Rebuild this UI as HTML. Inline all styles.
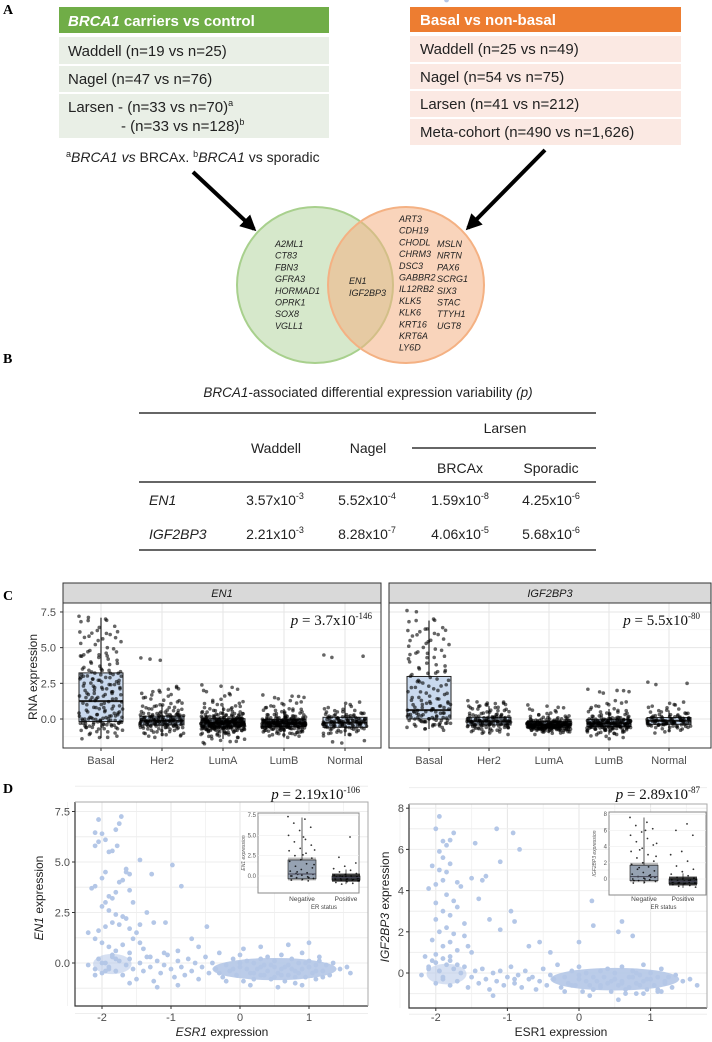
<!DOCTYPE html>
<html><head><meta charset="utf-8">
<style>
html,body{margin:0;padding:0;background:#fff;}
svg{display:block;font-family:"Liberation Sans",Arial,sans-serif;}
.lbl{font-family:"Liberation Serif",serif;font-weight:bold;font-size:14px;}
.tk{font-size:11px;fill:#4d4d4d;}
.gn{font-size:9px;font-style:italic;fill:#222;}
</style></head>
<body>
<svg id="fig" width="712" height="1042" viewBox="0 0 712 1042" xmlns="http://www.w3.org/2000/svg">
<defs>
<marker id="ah" viewBox="0 0 10 10" refX="8" refY="5" markerWidth="4" markerHeight="4" orient="auto"><path d="M0,0 L10,5 L0,10 z" fill="#000"/></marker>
</defs>
<!-- Panel A -->
<text class="lbl" x="3" y="14">A</text>
<g>
<rect x="59" y="7" width="270" height="26" fill="#70ad47"/>
<text x="68" y="26" fill="#fff" font-size="15" font-weight="bold"><tspan font-style="italic">BRCA1</tspan> carriers vs control</text>
<rect x="59" y="37" width="270" height="27" fill="#e9efe6"/>
<text x="68" y="56" font-size="15" fill="#222">Waddell (n=19 vs n=25)</text>
<rect x="59" y="66" width="270" height="26" fill="#e9efe6"/>
<text x="68" y="84" font-size="15" fill="#222">Nagel (n=47 vs n=76)</text>
<rect x="59" y="94" width="270" height="44" fill="#e9efe6"/>
<text x="68" y="112" font-size="15" fill="#222">Larsen - (n=33 vs n=70)<tspan font-size="9" dy="-6">a</tspan></text>
<text x="121" y="131" font-size="15" fill="#222">- (n=33 vs n=128)<tspan font-size="9" dy="-6">b</tspan></text>
<text x="66" y="162" font-size="14" fill="#222"><tspan font-size="9" dy="-5">a</tspan><tspan dy="5" font-style="italic">BRCA1 vs</tspan> BRCAx. <tspan font-size="9" dy="-5">b</tspan><tspan dy="5" font-style="italic">BRCA1</tspan> vs sporadic</text>
</g>
<g>
<rect x="410" y="7" width="271" height="25" fill="#ed7d31"/>
<text x="420" y="25" fill="#fff" font-size="15" font-weight="bold">Basal vs non-basal</text>
<rect x="410" y="36" width="271" height="26" fill="#fbe9e3"/>
<text x="420" y="54" font-size="15" fill="#222">Waddell (n=25 vs n=49)</text>
<rect x="410" y="64" width="271" height="25" fill="#fbe9e3"/>
<text x="420" y="82" font-size="15" fill="#222">Nagel (n=54 vs n=75)</text>
<rect x="410" y="91" width="271" height="26" fill="#fbe9e3"/>
<text x="420" y="109" font-size="15" fill="#222">Larsen (n=41 vs n=212)</text>
<rect x="410" y="119" width="271" height="26" fill="#fbe9e3"/>
<text x="420" y="137" font-size="15" fill="#222">Meta-cohort (n=490 vs n=1,626)</text>
</g>
<line x1="193" y1="172" x2="254" y2="229" stroke="#000" stroke-width="4" marker-end="url(#ah)"/>
<line x1="545" y1="150" x2="468" y2="228" stroke="#000" stroke-width="4" marker-end="url(#ah)"/>
<g>
<circle cx="315" cy="285" r="78" fill="#d6e8cb" stroke="#a8d08d" stroke-width="2"/>
<circle cx="406" cy="285" r="78" fill="#f4b183" fill-opacity="0.55" stroke="#f4b183" stroke-width="2"/>
<text class="gn"><tspan x="275" y="247">A2ML1</tspan><tspan x="275" y="258.7">CT83</tspan><tspan x="275" y="270.4">FBN3</tspan><tspan x="275" y="282.1">GFRA3</tspan><tspan x="275" y="293.8">HORMAD1</tspan><tspan x="275" y="305.5">OPRK1</tspan><tspan x="275" y="317.2">SOX8</tspan><tspan x="275" y="328.9">VGLL1</tspan></text>
<text class="gn"><tspan x="349" y="284">EN1</tspan><tspan x="349" y="296">IGF2BP3</tspan></text>
<text class="gn"><tspan x="399" y="222">ART3</tspan><tspan x="399" y="233.7">CDH19</tspan><tspan x="399" y="245.4">CHODL</tspan><tspan x="399" y="257.1">CHRM3</tspan><tspan x="399" y="268.8">DSC3</tspan><tspan x="399" y="280.5">GABBR2</tspan><tspan x="399" y="292.2">IL12RB2</tspan><tspan x="399" y="303.9">KLK5</tspan><tspan x="399" y="315.6">KLK6</tspan><tspan x="399" y="327.3">KRT16</tspan><tspan x="399" y="339">KRT6A</tspan><tspan x="399" y="350.7">LY6D</tspan></text>
<text class="gn"><tspan x="437" y="247">MSLN</tspan><tspan x="437" y="258.7">NRTN</tspan><tspan x="437" y="270.4">PAX6</tspan><tspan x="437" y="282.1">SCRG1</tspan><tspan x="437" y="293.8">SIX3</tspan><tspan x="437" y="305.5">STAC</tspan><tspan x="437" y="317.2">TTYH1</tspan><tspan x="437" y="328.9">UGT8</tspan></text>
</g>
<!-- Panel B -->
<text class="lbl" x="3" y="363">B</text>
<g font-size="14" fill="#222">
<text x="368" y="397" text-anchor="middle" font-size="13.5"><tspan font-style="italic">BRCA1</tspan>-associated differential expression variability <tspan font-style="italic">(p)</tspan></text>
<line x1="139" y1="413" x2="596" y2="413" stroke="#333" stroke-width="1.5"/>
<text x="505" y="433" text-anchor="middle">Larsen</text>
<line x1="412" y1="448" x2="596" y2="448" stroke="#333" stroke-width="1.5"/>
<text x="276" y="453" text-anchor="middle">Waddell</text>
<text x="368" y="453" text-anchor="middle">Nagel</text>
<text x="460" y="473" text-anchor="middle">BRCAx</text>
<text x="551" y="473" text-anchor="middle">Sporadic</text>
<line x1="139" y1="482" x2="596" y2="482" stroke="#333" stroke-width="1.5"/>
<text x="149" y="505" font-style="italic">EN1</text>
<text x="275" y="505" text-anchor="middle">3.57x10<tspan font-size="9" dy="-6">-3</tspan></text>
<text x="367" y="505" text-anchor="middle">5.52x10<tspan font-size="9" dy="-6">-4</tspan></text>
<text x="460" y="505" text-anchor="middle">1.59x10<tspan font-size="9" dy="-6">-8</tspan></text>
<text x="551" y="505" text-anchor="middle">4.25x10<tspan font-size="9" dy="-6">-6</tspan></text>
<text x="149" y="539" font-style="italic">IGF2BP3</text>
<text x="275" y="539" text-anchor="middle">2.21x10<tspan font-size="9" dy="-6">-3</tspan></text>
<text x="367" y="539" text-anchor="middle">8.28x10<tspan font-size="9" dy="-6">-7</tspan></text>
<text x="460" y="539" text-anchor="middle">4.06x10<tspan font-size="9" dy="-6">-5</tspan></text>
<text x="551" y="539" text-anchor="middle">5.68x10<tspan font-size="9" dy="-6">-6</tspan></text>
<line x1="139" y1="550" x2="596" y2="550" stroke="#333" stroke-width="1.5"/>
</g>
<text class="lbl" x="3" y="600">C</text>
<text class="lbl" x="3" y="793">D</text>
<g id="chartC"></g>
<g id="chartD"></g>
</svg>
<script>
// ---------- Panel C data ----------
const cCategories = ["Basal","Her2","LumA","LumB","Normal"];
const cYTicks = [0.0, 2.5, 5.0, 7.5];
const cYTickLabels = ["0.0","2.5","5.0","7.5"];
// box stats: [whiskerLow, q1, median, q3, whiskerHigh]
const en1Boxes = [[-1.34,-0.18,1.25,3.23,7.1],[-1.2,-0.42,-0.12,0.2,1.0],[-1.4,-0.55,-0.25,0.02,0.9],[-1.3,-0.53,-0.3,-0.02,0.7],[-1.2,-0.58,-0.25,0.12,1.0]];
const igfBoxes = [[-0.7,0.0,0.62,2.98,6.9],[-1.0,-0.42,-0.16,0.12,0.9],[-1.0,-0.58,-0.42,-0.18,0.35],[-1.1,-0.53,-0.3,-0.02,0.7],[-0.9,-0.37,-0.12,0.1,0.6]];
const en1Points = [
"7.2 7.0 6.9 6.5 6.2 6.1 6.0 5.8 5.7 5.5 5.3 5.0 4.8 4.7 4.5 4.4 4.2 4.0 3.9 3.7 3.5 3.4 3.3 3.2 3.1 3.0 2.9 2.8 2.7 2.6 2.5 2.4 2.3 2.2 2.1 2.0 1.9 1.8 1.7 1.6 1.5 1.4 1.3 1.2 1.1 1.0 0.9 0.8 0.7 0.6 0.5 0.4 0.3 0.2 0.1 0.0 -0.1 -0.2 -0.3 -0.4 -0.5 -0.6 -0.7 -0.8 -0.9 -1.0 -1.2 -1.3 0.0 -0.2 0.1 0.3 -0.1 -0.3 0.2 1.5 2.5 3.5 4.5 3.2 2.8 0.5 -0.5 0.0 -0.4 -0.25 -0.15 0.05 -0.35 1.8 2.2 3.0 0.8 -0.6",
"4.2 2.2 2.0 1.8 1.6 1.4 1.2 1.0 0.9 0.8 0.7 0.6 0.5 0.4 0.3 0.3 0.2 0.2 0.1 0.1 0.0 0.0 0.0 -0.1 -0.1 -0.1 -0.2 -0.2 -0.2 -0.3 -0.3 -0.3 -0.4 -0.4 -0.5 -0.5 -0.6 -0.6 -0.7 -0.8 -0.9 -1.0 -1.1 -1.2 0.05 -0.15 -0.25 -0.35 0.15 -0.45 0.25 -0.05 -0.55 -0.12 0.35 -0.22",
"2.3 2.0 1.7 1.3 1.1 1.0 0.8 0.7 0.6 0.5 0.4 0.3 0.3 0.2 0.2 0.1 0.1 0.0 0.0 0.0 -0.1 -0.1 -0.1 -0.2 -0.2 -0.2 -0.2 -0.3 -0.3 -0.3 -0.3 -0.4 -0.4 -0.4 -0.5 -0.5 -0.5 -0.6 -0.6 -0.7 -0.7 -0.8 -0.8 -0.9 -1.0 -1.1 -1.2 -1.3 -1.5 -1.65 -0.25 -0.35 -0.45 -0.15 -0.05 -0.55 -0.65 0.05 -0.28 -0.38 -0.18 -0.48 -0.22 -0.32 -0.42 -0.12 -0.58 -0.08 -0.62 -0.75 0.15 -0.27 -0.37 -0.47 -0.17 -0.07 -0.57 -0.67 0.25 -0.85 -0.3 -0.2 -0.4 -0.1 -0.5 0.0 -0.6 -0.33 -0.23 -0.43 -0.13 -0.53 0.45 -0.95 -0.7 -0.26 -0.36 -0.46 -0.16 -0.56",
"1.6 1.5 1.2 1.0 0.8 0.7 0.6 0.5 0.4 0.3 0.2 0.2 0.1 0.1 0.0 0.0 -0.1 -0.1 -0.1 -0.2 -0.2 -0.2 -0.3 -0.3 -0.3 -0.3 -0.4 -0.4 -0.4 -0.5 -0.5 -0.5 -0.6 -0.6 -0.7 -0.7 -0.8 -0.9 -1.0 -1.1 -1.2 -0.25 -0.35 -0.45 -0.15 -0.05 -0.55 -0.65 0.05 -0.28 -0.38 -0.18 -0.48 -0.22 -0.32 -0.42 -0.12 -0.58 -0.08 -0.62 -0.75 0.15 -0.27 -0.37 -0.47 -0.17 -0.57 -0.85 -0.3 -0.2 -0.4 -0.1 -0.5 -0.33 -0.23 -0.43 -0.13 -0.53 -0.95",
"4.4 1.1 0.8 0.6 0.5 0.4 0.3 0.2 0.1 0.0 0.0 -0.1 -0.1 -0.2 -0.2 -0.3 -0.3 -0.4 -0.4 -0.5 -0.5 -0.6 -0.7 -0.8 -0.9 -1.0 -1.1 -1.6 -0.25 -0.15 -0.35 0.05 -0.45 -0.05 0.15 -0.55 -0.65 0.25 -0.28 -0.18 -0.38 -0.08"
];
const igfPoints = [
"7.6 7.0 6.9 6.4 6.3 6.2 6.0 5.9 5.6 5.3 5.1 4.9 4.7 4.4 4.3 4.0 3.8 3.6 3.4 3.2 3.0 2.8 2.6 2.4 2.3 2.2 2.0 1.9 1.8 1.6 1.5 1.4 1.3 1.2 1.1 1.0 0.9 0.8 0.7 0.6 0.5 0.4 0.3 0.2 0.1 0.0 -0.1 -0.2 -0.3 -0.4 -0.5 -0.6 -0.7 0.2 0.0 0.4 0.1 -0.2 0.3 -0.4 0.6 0.8 1.1 -0.1 0.5 2.7 3.3 4.6 5.5 0.15 -0.05 -0.3",
"1.2 1.1 1.0 0.9 0.8 0.7 0.6 0.5 0.4 0.3 0.2 0.1 0.1 0.0 0.0 -0.1 -0.1 -0.2 -0.2 -0.2 -0.3 -0.3 -0.4 -0.4 -0.5 -0.5 -0.6 -0.7 -0.8 -0.9 -1.0 -0.15 -0.25 -0.35 0.05 -0.45 -0.05 0.15 -0.55 0.25 -0.12 -0.22 -0.32 -0.65",
"0.9 0.7 0.5 0.3 0.2 0.1 0.0 0.0 -0.1 -0.1 -0.2 -0.2 -0.3 -0.3 -0.3 -0.4 -0.4 -0.4 -0.4 -0.5 -0.5 -0.5 -0.6 -0.6 -0.6 -0.7 -0.7 -0.8 -0.8 -0.9 -1.0 -0.35 -0.45 -0.55 -0.25 -0.15 -0.65 -0.38 -0.48 -0.28 -0.58 -0.42 -0.32 -0.52 -0.22 -0.62 -0.72 -0.36 -0.46 -0.56 -0.26 -0.66 -0.33 -0.43 -0.53 -0.23 -0.63 -0.75 -0.85 -0.05 -0.39 -0.49 -0.29 -0.59 -0.19 -0.69 -0.41 -0.51 -0.31 -0.61 -0.21 -0.71 -0.44 -0.34 -0.54 -0.24 -0.64 -0.37 -0.47 -0.57",
"2.0 1.9 1.2 1.0 0.8 0.6 0.5 0.4 0.3 0.2 0.1 0.1 0.0 0.0 -0.1 -0.1 -0.2 -0.2 -0.3 -0.3 -0.3 -0.4 -0.4 -0.4 -0.5 -0.5 -0.5 -0.6 -0.6 -0.7 -0.7 -0.8 -0.9 -1.0 -1.1 -1.3 -0.25 -0.35 -0.45 -0.15 -0.05 -0.55 -0.65 0.05 -0.28 -0.38 -0.18 -0.48 -0.22 -0.32 -0.42 -0.12 -0.58 -0.08 -0.62 -0.75 -0.27 -0.37 -0.47 -0.17 -0.57 -0.85",
"2.5 1.1 0.9 0.7 0.5 0.4 0.3 0.2 0.1 0.1 0.0 0.0 -0.1 -0.1 -0.2 -0.2 -0.3 -0.3 -0.4 -0.4 -0.5 -0.5 -0.6 -0.7 -0.9 -0.15 -0.25 -0.05 0.05 -0.35 -0.45 0.15 -0.12 -0.22 -0.32"
];

// ---------- Panel D data ----------
const dXTicks = [-2,-1,0,1];
const dXTickLabels = ["-2","-1","0","1"];
const dEn1YTicks = [0.0,2.5,5.0,7.5];
const dEn1YTickLabels = ["0.0","2.5","5.0","7.5"];
const dIgfYTicks = [0,2,4,6,8];
const dIgfYTickLabels = ["0","2","4","6","8"];
const en1ScatterX = "-2.05 -2.0 -2.1 -1.95 -1.72 -1.75 -1.8 -2.05 -2.1 -1.9 -1.85 -1.78 -1.65 -1.6 -1.65 -1.95 -2.0 -2.1 -2.15 -1.9 -1.85 -1.95 -1.8 -1.7 -1.75 -1.6 -1.55 -2.0 -1.9 -1.8 -1.7 -1.85 -1.95 -2.05 -1.75 -1.65 -1.6 -1.5 -1.55 -1.45 -2.2 -2.1 -2.0 -1.9 -1.8 -1.7 -1.6 -1.4 -1.3 -1.35 -1.25 -1.45 -1.45 -1.28 -0.98 -0.85 -1.08 -0.48 -0.7 -0.6 -0.9 -1.1 -2.2 -2.1 -2.05 -2.0 -1.95 -1.9 -1.85 -1.8 -1.75 -1.7 -1.65 -1.6 -1.55 -1.5 -1.45 -1.4 -1.35 -1.3 -1.25 -1.2 -1.15 -1.1 -1.05 -1.0 -0.95 -0.9 -0.85 -0.8 -0.75 -0.7 -0.65 -0.6 -0.55 -0.5 -0.45 -0.4 -0.35 -0.3 -0.25 -0.2 -0.15 -0.1 -0.05 0.0 0.0 0.05 0.1 0.1 0.15 0.2 0.2 0.25 0.3 0.3 0.35 0.4 0.4 0.45 0.5 0.5 0.55 0.6 0.6 0.65 0.7 0.7 0.75 0.8 0.8 0.85 0.9 0.9 0.95 1.0 1.0 1.05 1.1 1.1 1.15 1.2 1.25 1.3 1.35 1.45 1.55 1.6 -0.2 0.15 0.55 0.9 -1.2 -0.9 -1.6 0.0 0.3 0.45 0.6 0.75 0.85 0.95 1.1 1.2 -0.1 0.2 0.5 0.65 0.8 0.05 0.3 0.7 1.0 -2.0 -1.9 -1.8 -2.1 -1.95 -1.85 -0.3 0.35 1.0 1.15";
const en1ScatterY = "7.1 6.4 6.45 6.1 7.25 6.9 6.6 6.0 5.8 5.5 5.55 5.8 4.5 4.4 4.65 4.5 4.2 3.8 3.7 3.3 3.2 3.0 3.5 4.1 4.0 3.6 3.0 2.8 2.6 2.4 2.3 2.0 1.8 1.6 1.9 2.2 1.7 1.5 1.2 1.0 1.5 1.2 1.0 0.8 0.6 0.9 0.5 0.7 0.3 2.5 2.0 1.9 5.1 4.4 4.85 3.8 2.0 1.8 1.2 0.8 0.6 0.5 -0.1 -0.3 0.2 -0.5 0.0 -0.2 0.3 -0.4 0.1 -0.6 -0.1 0.2 -0.3 -0.8 0.0 -0.4 0.3 -0.2 -0.9 0.1 -0.5 -0.1 0.4 -0.3 -0.7 0.1 -0.2 -0.6 0.2 -0.4 0.0 -0.8 -0.2 0.3 -0.5 0.0 -0.3 0.5 -0.7 -0.1 -0.4 0.2 -0.6 -0.2 0.4 -0.9 -0.3 0.1 -0.5 0.0 -0.8 -0.3 0.2 -0.6 -0.1 -0.4 0.3 -0.8 -0.2 0.1 -0.5 -0.3 0.4 -0.9 -0.1 -0.6 0.2 -0.4 -1.0 0.0 -0.3 0.5 -0.7 -0.2 0.1 -0.5 -0.1 -0.8 0.3 -0.4 -0.1 -0.6 0.0 -0.3 -0.2 -0.5 -0.9 -1.1 -1.2 -1.1 -1.2 -1.1 -1.0 0.0 -0.2 -0.1 -0.6 -0.3 -0.5 0.0 -0.4 -0.7 -0.3 -0.5 -0.7 -0.2 -0.7 0.7 0.8 0.9 1.0 0.0 -0.3 0.2 -0.6 -0.4 0.4 -0.5 -0.6 -0.2 0.1";
const igfScatterX = "-1.95 -2.0 -1.9 -1.85 -1.8 -1.95 -2.05 -1.9 -1.85 -1.75 -2.0 -1.95 -1.9 -1.8 -1.7 -2.1 -2.0 -1.85 -1.75 -1.65 -1.9 -2.0 -1.8 -1.7 -1.6 -1.95 -1.85 -1.75 -2.05 -1.9 -1.8 -1.7 -1.6 -1.55 -2.15 -2.0 -1.9 -1.8 -1.7 -1.5 -1.15 -0.92 -0.83 -1.1 -1.45 -1.3 -1.35 -0.95 -0.9 0.18 0.2 0.6 0.55 0.75 -1.1 -0.55 0.0 -1.5 -1.4 -1.25 -0.7 -0.4 -2.2 -2.1 -2.05 -2.0 -1.95 -1.9 -1.85 -1.8 -1.75 -1.7 -1.65 -1.6 -1.55 -1.5 -1.45 -1.4 -1.35 -1.3 -1.25 -1.2 -1.15 -1.1 -1.05 -1.0 -0.95 -0.9 -0.85 -0.8 -0.75 -0.7 -0.65 -0.6 -0.55 -0.5 -0.45 -0.4 -0.35 -0.3 -0.25 -0.2 -0.15 -0.1 -0.05 0.0 0.0 0.05 0.1 0.1 0.15 0.2 0.2 0.25 0.3 0.3 0.35 0.4 0.4 0.45 0.5 0.5 0.55 0.6 0.6 0.65 0.7 0.7 0.75 0.8 0.8 0.85 0.9 0.9 0.95 1.0 1.0 1.05 1.1 1.1 1.15 1.2 1.25 1.3 1.35 1.45 1.55 1.65 -0.2 0.15 0.55 0.9 1.15 -1.2 -0.9 0.0 0.3 0.45 0.6 0.75 0.85 0.95 1.1 1.2 -0.1 0.2 0.5 0.65 0.8 -2.0 -1.9 -1.8 -2.1 -1.95 -1.85";
const igfScatterY = "7.6 7.0 6.4 6.2 6.45 5.9 5.2 5.6 4.9 6.8 4.3 5.0 4.5 5.3 4.4 4.1 3.4 3.8 3.5 4.2 3.0 2.6 2.8 3.2 2.4 2.0 2.2 1.9 1.6 1.3 1.5 1.1 1.8 1.3 0.8 0.9 0.7 0.6 0.4 1.0 7.0 6.8 6.0 5.4 6.3 4.7 4.5 3.0 2.5 3.5 2.3 2.5 2.0 1.8 2.1 1.5 1.5 4.6 3.6 2.6 1.3 1.0 -0.1 0.3 0.6 -0.5 0.1 -0.3 0.4 -0.6 0.2 -0.4 0.0 0.3 -0.7 -0.2 0.1 -0.5 0.2 -0.3 -0.8 0.0 -0.4 0.1 -0.6 -0.2 0.3 -0.5 -0.1 -0.7 0.1 -0.3 -0.2 -0.8 -0.4 0.2 -0.6 -0.1 -0.3 0.4 -0.7 -0.2 -0.5 0.1 -0.6 -0.3 0.3 -0.9 -0.4 0.0 -0.6 -0.2 -0.8 -0.4 0.1 -0.7 -0.2 -0.5 0.2 -0.9 -0.3 0.0 -0.6 -0.4 0.3 -1.0 -0.2 -0.7 0.1 -0.5 -1.0 -0.1 -0.4 0.4 -0.8 -0.3 0.0 -0.6 -0.2 -0.9 0.2 -0.5 -0.2 -0.7 -0.1 -0.4 -0.3 -0.6 -0.9 -1.1 -1.3 -1.0 -0.9 -1.1 -0.3 -0.1 -0.6 -0.4 -0.5 -0.2 -0.6 -0.3 -0.8 -0.4 -0.6 -0.8 -0.3 -0.8 0.0 0.5 -0.2 0.8 0.2 0.1";
const en1InsetNeg = "7.3 7.0 6.5 6.0 5.6 5.0 4.5 4.2 3.8 3.4 3.1 2.8 2.5 2.2 2.0 1.8 1.5 1.2 1.0 0.8 0.6 0.4 0.3 0.2 0.1 0.0 -0.1 -0.2 -0.3 -0.4 -0.5 -0.6 0.5 1.4 2.6 0.0 -0.2 0.2 3.2 4.8";
const en1InsetPos = "4.8 2.3 1.6 1.2 0.9 0.7 0.5 0.3 0.2 0.1 0.0 0.0 -0.1 -0.1 -0.2 -0.2 -0.3 -0.3 -0.4 -0.4 -0.5 -0.5 -0.6 -0.7 -0.8 -0.9 -1.0 -0.25 -0.35 -0.15 -0.45 -0.05 -0.55";
const igfInsetNeg = "7.6 7.0 6.6 6.2 5.8 5.4 5.0 4.6 4.2 3.8 3.4 3.0 2.6 2.2 2.0 1.8 1.5 1.2 1.0 0.8 0.6 0.4 0.3 0.2 0.1 0.0 -0.1 -0.2 -0.3 -0.4 -0.5 0.5 1.4 2.8 0.0 -0.2 0.2 3.6 4.4 6.0";
const igfInsetPos = "6.8 6.0 5.4 3.4 3.0 2.2 1.6 1.2 0.9 0.6 0.4 0.2 0.1 0.0 -0.1 -0.2 -0.2 -0.3 -0.3 -0.4 -0.4 -0.5 -0.5 -0.6 -0.7 -0.8 -0.9 -1.0 -0.25 -0.35 -0.15 -0.45 -0.05 -0.55";

const NS = "http://www.w3.org/2000/svg";
function el(tag, attrs, parent){
  const e = document.createElementNS(NS, tag);
  for (const k in attrs) e.setAttribute(k, attrs[k]);
  parent.appendChild(e); return e;
}
function nums(s){ return s.trim().split(/\s+/).map(Number); }
function jit(i){ return ((i*61)%101)/101 - 0.5; }
function jit2(i){ return ((i*37+19)%89)/89 - 0.5; }

// ---------- Panel C ----------
const gC = document.getElementById("chartC");
const cPanels = [
  {title:"EN1", x0:63, x1:381, first:101, step:61, boxes:en1Boxes, pts:en1Points, p:"3.7x10", pe:"-146", px:372, showY:true},
  {title:"IGF2BP3", x0:389, x1:711, first:429, step:60, boxes:igfBoxes, pts:igfPoints, p:" 5.5x10", pe:"-80", px:700, showY:false}
];
const cTop = 603, cBot = 748;
function yC(v){ return 719 - v*14.27; }
cPanels.forEach((P, pi) => {
  const g = el("g", {}, gC);
  
  
  const strip = el("rect", {x:P.x0, y:583, width:P.x1-P.x0, height:cTop-583, fill:"#d9d9d9", stroke:"#333", "stroke-width":1}, g);
  
  
  const st = el("text", {x:(P.x0+P.x1)/2, y:597, "text-anchor":"middle", "font-size":11, "font-style":"italic", fill:"#1a1a1a"}, g);
  st.textContent = P.title;
  
  
  for (let v=-1.25; v<8; v+=1.25){
    const major = Math.abs((v/2.5) - Math.round(v/2.5)) < 1e-6;
    const gl = el("line", {x1:P.x0, x2:P.x1, y1:yC(v), y2:yC(v), stroke:major?"#e6e6e6":"#f2f2f2", "stroke-width":major?1:0.6}, g);
    
    
  }
  cCategories.forEach((c,i) => {
    const cx = P.first + i*P.step;
    const gl = el("line", {x1:cx, x2:cx, y1:cTop, y2:cBot, stroke:"#e6e6e6", "stroke-width":1}, g);
    
    
  });
  cCategories.forEach((c,i) => {
    const cx = P.first + i*P.step;
    const b = P.boxes[i];
    const w = 44;
    const wl = el("line", {x1:cx, x2:cx, y1:yC(b[4]), y2:yC(b[0]), stroke:"#222", "stroke-width":1.2}, g);
    
    
    const r = el("rect", {x:cx-w/2, y:yC(b[3]), width:w, height:yC(b[1])-yC(b[3]), fill:"#c9d9ee", stroke:"#222", "stroke-width":1}, g);
    
    
    const ml = el("line", {x1:cx-w/2, x2:cx+w/2, y1:yC(b[2]), y2:yC(b[2]), stroke:"#222", "stroke-width":2}, g);
    
    
    const vals = nums(P.pts[i]);
    const reps = i === 0 ? 2 : 3;
    vals.forEach((v,k) => {
      for (let rr=0; rr<reps; rr++){
        const dx = (rr===0 ? jit(k+i*7) : (rr===1 ? jit2(k+i*3) : jit(k*3+5)))*44;
        const dy = rr===0 ? 0 : (rr===1 ? 1.2 : -1.2);
        const pt = el("circle", {cx:cx + dx, cy:yC(v)+dy, r:1.8, fill:"#000", "fill-opacity":0.6}, g);
        
        
      }
    });
    const xl = el("text", {x:cx, y:764, "text-anchor":"middle", class:"tk"}, g);
    xl.textContent = c;
    
    
    const tk = el("line", {x1:cx, x2:cx, y1:cBot, y2:cBot+3, stroke:"#333"}, g);
    
    
  });
  const frame = el("rect", {x:P.x0, y:cTop, width:P.x1-P.x0, height:cBot-cTop, fill:"none", stroke:"#333", "stroke-width":1}, g);
  
  
  const pt = el("text", {x:P.px, y:625, "text-anchor":"end", "font-family":"Liberation Serif, serif", "font-size":15, fill:"#111"}, g);
  pt.innerHTML = '<tspan font-style="italic">p</tspan> = ' + P.p + '<tspan font-size="9" dy="-6">' + P.pe + '</tspan>';
  
  
  if (P.showY){
    cYTicks.forEach((v,i) => {
      const t = el("text", {x:56, y:yC(v)+4, "text-anchor":"end", class:"tk"}, g);
      t.textContent = cYTickLabels[i];
      
      
      const tk = el("line", {x1:60, x2:63, y1:yC(v), y2:yC(v), stroke:"#333"}, g);
      
      
    });
    const yt = el("text", {x:0, y:0, "text-anchor":"middle", "font-size":12, fill:"#222", transform:"translate(37,677) rotate(-90)"}, g);
    yt.textContent = "RNA expression";
    
    
  }
});

// ---------- Panel D ----------
const gD = document.getElementById("chartD");
const dPanels = [
  {name:"en1", x0:75, x1:368, top:802, bot:1006, xz:240, xu:69, yz:963, yu:20.2, yTicks:dEn1YTicks, yLabels:dEn1YTickLabels,
   xs:en1ScatterX, ys:en1ScatterY, ytitle:"<tspan font-style='italic'>EN1</tspan> expression", xtitle:"<tspan font-style='italic'>ESR1</tspan> expression", xtx:222, ytx:43, yty:898,
   p:"2.19x10", pe:"-106", px:360,
   inset:{x0:258,x1:359,top:813,bot:893,yz:876,yu:8.13,ticks:[0,2.5,5.0,7.5],labels:["0.0","2.5","5.0","7.5"],c1:302,c2:346,
     box1:[-0.6,-0.35,0.25,1.97,7.2],box2:[-1.0,-0.5,-0.2,0.0,0.8],neg:en1InsetNeg,pos:en1InsetPos,yt:"EN1 expression"}},
  {name:"igf2bp3", x0:409, x1:707, top:804, bot:1008, xz:579, xu:71.6, yz:973, yu:20.6, yTicks:dIgfYTicks, yLabels:dIgfYTickLabels,
   xs:igfScatterX, ys:igfScatterY, ytitle:"<tspan font-style='italic'>IGF2BP3</tspan> expression", xtitle:"ESR1 expression", xtx:561, ytx:389, yty:907,
   p:"2.89x10", pe:"-87", px:700,
   inset:{x0:609,x1:706,top:812,bot:895,yz:879,yu:8.1,ticks:[0,2,4,6,8],labels:["0","2","4","6","8"],c1:644,c2:683,
     box1:[-0.6,-0.2,0.3,1.7,7.6],box2:[-1.1,-0.6,-0.3,0.0,0.7],neg:igfInsetNeg,pos:igfInsetPos,yt:"IGF2BP3 expression"}}
];
dPanels.forEach(P => {
  const g = el("g", {}, gD);
  
  
  const X = v => P.xz + v*P.xu, Y = v => P.yz - v*P.yu;
  for (let v=-2.5; v<=1.5; v+=0.5){
    const major = Number.isInteger(v);
    const gl = el("line", {x1:X(v), x2:X(v), y1:P.top, y2:P.bot, stroke:major?"#e6e6e6":"#f3f3f3"}, g);
    
    
  }
  const step = P.yTicks[1]-P.yTicks[0];
  for (let v=-step; v<=P.yTicks[P.yTicks.length-1]+step/2; v+=step/2){
    const gl = el("line", {x1:P.x0, x2:P.x1, y1:Y(v), y2:Y(v), stroke:"#eeeeee"}, g);
    
    
  }
  const hz = el("ellipse", {cx:X(0.5), cy:Y(-0.3), rx:0.9*P.xu, ry:0.55*P.yu, fill:"#b4c7e7", "fill-opacity":0.9}, g);
  
  
  const hz2 = el("ellipse", {cx:X(-1.85), cy:Y(-0.05), rx:0.28*P.xu, ry:0.5*P.yu, fill:"#b4c7e7", "fill-opacity":0.55}, g);
  
  
  const xs = nums(P.xs), ys = nums(P.ys);
  xs.forEach((x,i) => {
    const c = el("circle", {cx:X(x), cy:Y(ys[i]), r:2.4, fill:"#b4c7e7"}, g);
    
    
  });
  const fr = el("path", {d:`M${P.x0},${P.top} L${P.x0},${P.bot} L${P.x1},${P.bot}`, fill:"none", stroke:"#333", "stroke-width":1.2}, g);
  
  
  const fr2 = el("path", {d:`M${P.x0},${P.top} L${P.x1},${P.top} L${P.x1},${P.bot}`, fill:"none", stroke:"#aaa", "stroke-width":1}, g);
  
  
  dXTicks.forEach((v,i) => {
    const t = el("text", {x:X(v), y:1021, "text-anchor":"middle", class:"tk"}, g);
    t.textContent = dXTickLabels[i];
    
    
    const tk = el("line", {x1:X(v), x2:X(v), y1:P.bot, y2:P.bot+3, stroke:"#333"}, g);
    
    
  });
  P.yTicks.forEach((v,i) => {
    const t = el("text", {x:P.x0-5, y:Y(v)+4, "text-anchor":"end", class:"tk"}, g);
    t.textContent = P.yLabels[i];
    
    
    const tk = el("line", {x1:P.x0-3, x2:P.x0, y1:Y(v), y2:Y(v), stroke:"#333"}, g);
    
    
  });
  const xt = el("text", {x:P.xtx, y:1036, "text-anchor":"middle", "font-size":12, fill:"#222"}, g);
  xt.innerHTML = P.xtitle;
  
  
  const yt = el("text", {x:0, y:0, "text-anchor":"middle", "font-size":12, fill:"#222", transform:`translate(${P.ytx},${P.yty}) rotate(-90)`}, g);
  yt.innerHTML = P.ytitle;
  
  
  const pt = el("text", {x:P.px, y:799, "text-anchor":"end", "font-family":"Liberation Serif, serif", "font-size":15, fill:"#111"}, g);
  pt.innerHTML = '<tspan font-style="italic">p</tspan> = ' + P.p + '<tspan font-size="9" dy="-6">' + P.pe + '</tspan>';
  
  
  const I = P.inset;
  const gi = el("g", {}, g);
  
  
  const YI = v => I.yz - v*I.yu;
  const ibg = el("rect", {x:I.x0, y:I.top, width:I.x1-I.x0, height:I.bot-I.top, fill:"#fff", stroke:"#888", "stroke-width":1}, gi);
  
  
  I.ticks.forEach((v,i) => {
    const gl = el("line", {x1:I.x0, x2:I.x1, y1:YI(v), y2:YI(v), stroke:"#eee", "stroke-width":0.6}, gi);
    
    
    const t = el("text", {x:I.x0-2, y:YI(v)+2, "text-anchor":"end", "font-size":6, fill:"#555"}, gi);
    t.textContent = I.labels[i];
    
    
  });
  [[I.c1,I.box1,I.neg,"negative"],[I.c2,I.box2,I.pos,"positive"]].forEach(([cx,b,pts,nm],j) => {
    const w = 28;
    const wl = el("line", {x1:cx, x2:cx, y1:YI(b[4]), y2:YI(b[0]), stroke:"#333", "stroke-width":0.8}, gi);
    
    
    const r = el("rect", {x:cx-w/2, y:YI(b[3]), width:w, height:Math.max(2,YI(b[1])-YI(b[3])), fill:"#c9d9ee", stroke:"#333", "stroke-width":0.7}, gi);
    
    
    nums(pts).forEach((v,k) => {
      const c = el("circle", {cx:cx + jit(k+j*11)*w, cy:YI(v), r:0.9, fill:"#000", "fill-opacity":0.8}, gi);
      
      
    });
    const dense = el("rect", {x:cx-w/2, y:YI(b[3]+0.3), width:w, height:YI(b[1]-0.2)-YI(b[3]+0.3), fill:"#000", "fill-opacity":j?0.75:0.25}, gi);
    
    
    const ml = el("line", {x1:cx-w/2, x2:cx+w/2, y1:YI(b[2]), y2:YI(b[2]), stroke:"#445", "stroke-width":1}, gi);
    
    
    const lt = el("text", {x:cx, y:901, "text-anchor":"middle", "font-size":6.5, fill:"#444"}, gi);
    lt.textContent = nm === "negative" ? "Negative" : "Positive";
    
    
  });
  const er = el("text", {x:(I.c1+I.c2)/2, y:909, "text-anchor":"middle", "font-size":6, fill:"#444"}, gi);
  er.textContent = "ER status";
  
  
  const iy = el("text", {x:0, y:0, "text-anchor":"middle", "font-size":5, "font-style":"italic", fill:"#555", transform:`translate(${I.x0-13},${(I.top+I.bot)/2}) rotate(-90)`}, gi);
  iy.textContent = I.yt;
  
  
});
</script>
</body></html>
